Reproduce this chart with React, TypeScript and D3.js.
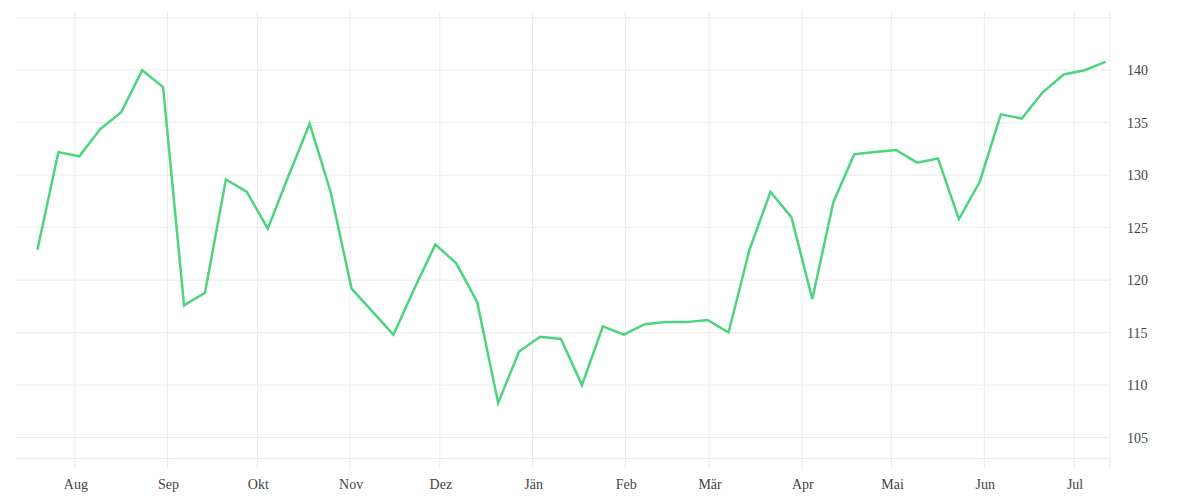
import * as d3 from 'd3';
import React, { useEffect, useRef } from 'react';

// weekly closes, Jul 2022 - Jul 2023
const firstWeek = new Date(2022, 6, 19, 12);
const values = [
  122.9, 132.2, 131.8, 134.4, 136.0, 140.0, 138.4, 117.6, 118.8, 129.6,
  128.4, 124.9, 130.0, 134.9, 128.4, 119.2, 117.0, 114.8, 119.2, 123.4,
  121.6, 117.9, 108.3, 113.2, 114.6, 114.4, 110.0, 115.6, 114.8, 115.8,
  116.0, 116.0, 116.2, 115.0, 122.9, 128.4, 126.0, 118.2, 127.4, 132.0,
  132.2, 132.4, 131.2, 131.6, 125.8, 129.4, 135.8, 135.4, 137.9, 139.6,
  140.0, 140.8,
];
const monthLabels = ['Aug', 'Sep', 'Okt', 'Nov', 'Dez', 'Jän', 'Feb', 'Mär', 'Apr', 'Mai', 'Jun', 'Jul'];
const yTicks = [105, 110, 115, 120, 125, 130, 135, 140, 145];
const yLabels = [105, 110, 115, 120, 125, 130, 135, 140];

function LineChart() {
  const svgRef = useRef<SVGSVGElement>(null);

  useEffect(() => {
    const w = 1200;
    const h = 500;
    const left = 15;
    const right = 1110;
    const top = 12;
    const bottom = 468;
    const grid = '#ebebeb';
    const font = '"Liberation Serif", serif';

    const data = values.map((v, i) => ({ date: d3.timeDay.offset(firstWeek, 7 * i), value: v }));

    const svg = d3.select(svgRef.current).attr('width', w).attr('height', h);
    svg.selectAll('*').remove();

    const x = d3
      .scaleTime()
      .domain([new Date(2022, 6, 12), new Date(2023, 6, 13)])
      .range([left, right]);
    const y = d3.scaleLinear().domain([102.1, 145.55]).range([bottom, top]);

    const months = d3.timeMonth.range(new Date(2022, 7, 1), new Date(2023, 7, 1));

    // horizontal grid
    svg
      .selectAll('.hgrid')
      .data([...yTicks, 103])
      .join('line')
      .attr('x1', left)
      .attr('x2', right)
      .attr('y1', (d) => y(d))
      .attr('y2', (d) => y(d))
      .attr('stroke', grid)
      .attr('stroke-width', 1);

    // vertical grid at month starts + right edge
    svg
      .selectAll('.vgrid')
      .data([...months.map((m) => x(m)), right])
      .join('line')
      .attr('x1', (d) => d)
      .attr('x2', (d) => d)
      .attr('y1', top)
      .attr('y2', bottom)
      .attr('stroke', grid)
      .attr('stroke-width', 1);

    svg
      .selectAll('.xlab')
      .data(months)
      .join('text')
      .attr('x', (d) => x(d) + 1)
      .attr('y', 489)
      .attr('text-anchor', 'middle')
      .attr('font-family', font)
      .attr('font-size', 14)
      .attr('fill', '#444')
      .text((d, i) => monthLabels[i]);

    svg
      .selectAll('.ylab')
      .data(yLabels)
      .join('text')
      .attr('x', 1127)
      .attr('y', (d) => y(d) + 5)
      .attr('font-family', font)
      .attr('font-size', 14)
      .attr('fill', '#444')
      .text((d) => d);

    const line = d3
      .line<{ date: Date; value: number }>()
      .x((d) => x(d.date))
      .y((d) => y(d.value));

    svg
      .append('path')
      .datum(data)
      .attr('d', line)
      .attr('fill', 'none')
      .attr('stroke', '#4cd47e')
      .attr('stroke-width', 2.5)
      .attr('stroke-linejoin', 'miter');
  }, []);

  return (
    <div style={{ position: 'absolute', left: 0, top: 0 }}>
      <svg ref={svgRef} style={{ display: 'block' }} />
    </div>
  );
}

export default function App() {
  return <LineChart />;
}
